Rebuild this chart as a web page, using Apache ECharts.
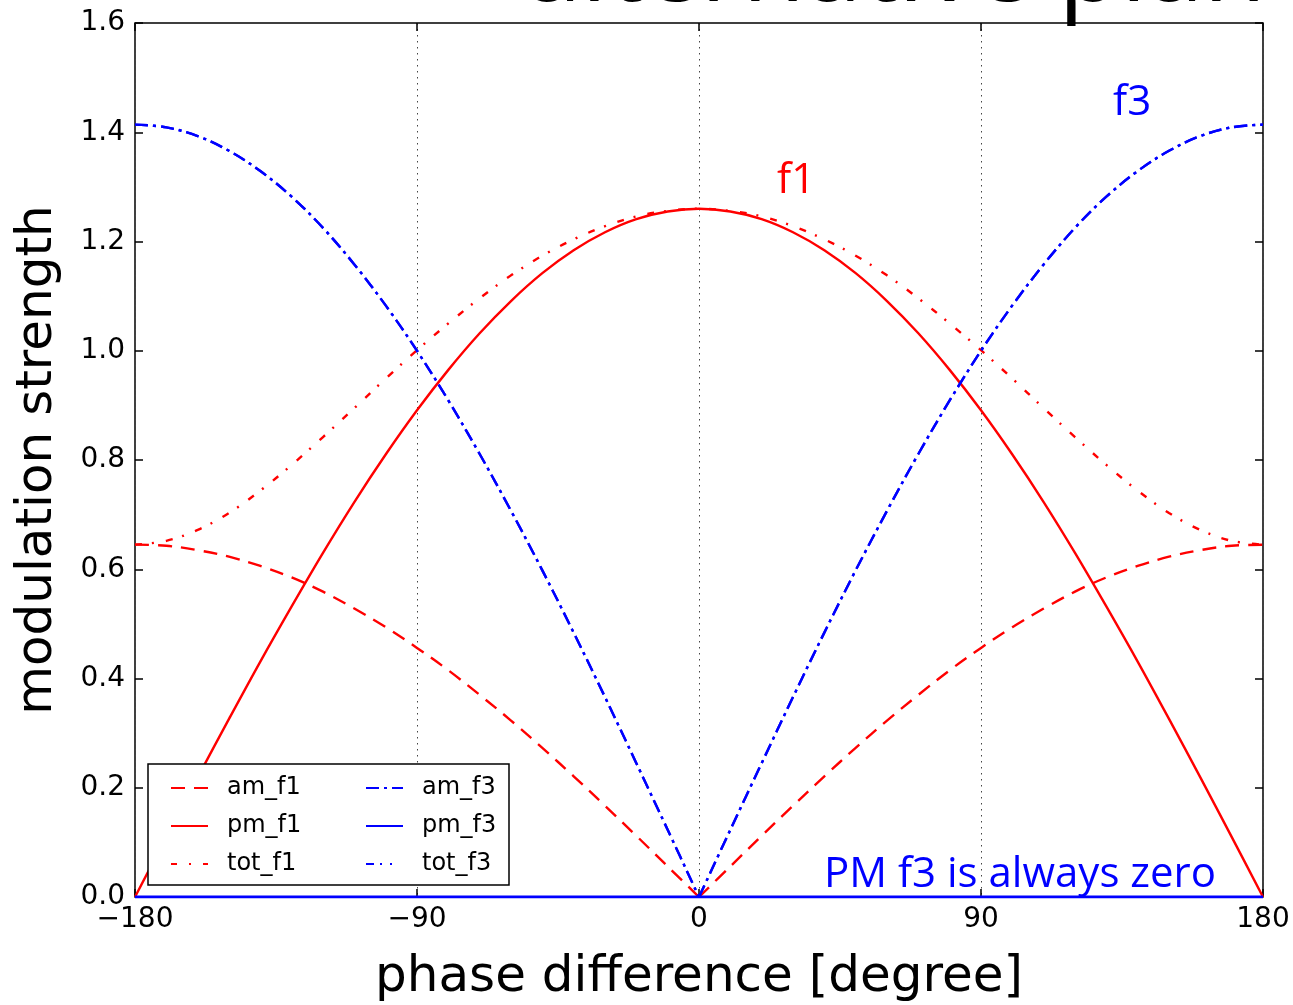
<!DOCTYPE html>
<html>
<head>
<meta charset="utf-8">
<script src="https://cdn.jsdelivr.net/npm/echarts@6/dist/echarts.min.js"></script>
<style>
html,body{margin:0;padding:0;background:#fff;}
#chart{width:1293px;height:1005px;}
</style>
</head>
<body>
<div id="chart"></div>
<script>
// phase difference in degrees
const phase = [-180,-170,-160,-150,-140,-130,-120,-110,-100,-90,-80,-70,-60,-50,-40,-30,-20,-10,0,
  10,20,30,40,50,60,70,80,90,100,110,120,130,140,150,160,170,180];

const amF1 = [0.645,0.643,0.635,0.623,0.606,0.585,0.559,0.528,0.494,0.456,0.415,0.370,0.323,0.273,0.221,0.167,0.112,0.056,0,
  0.056,0.112,0.167,0.221,0.273,0.323,0.370,0.415,0.456,0.494,0.528,0.559,0.585,0.606,0.623,0.635,0.643,0.645];

const pmF1 = [0,0.110,0.219,0.326,0.431,0.532,0.630,0.723,0.810,0.891,0.965,1.032,1.091,1.142,1.184,1.217,1.241,1.255,1.260,
  1.255,1.241,1.217,1.184,1.142,1.091,1.032,0.965,0.891,0.810,0.723,0.630,0.532,0.431,0.326,0.219,0.110,0];

const totF1 = [0.645,0.652,0.672,0.703,0.744,0.791,0.842,0.895,0.949,1.001,1.050,1.096,1.138,1.174,1.204,1.228,1.246,1.256,1.260,
  1.256,1.246,1.228,1.204,1.174,1.138,1.096,1.050,1.001,0.949,0.895,0.842,0.791,0.744,0.703,0.672,0.652,0.645];

const amF3 = [1.414,1.409,1.393,1.366,1.329,1.282,1.225,1.158,1.083,1.000,0.909,0.811,0.707,0.598,0.484,0.366,0.245,0.123,0,
  0.123,0.245,0.366,0.484,0.598,0.707,0.811,0.909,1.000,1.083,1.158,1.225,1.282,1.329,1.366,1.393,1.409,1.414];

const pmF3 = [0,0,0,0,0,0,0,0,0,0,0,0,0,0,0,0,0,0,0,
  0,0,0,0,0,0,0,0,0,0,0,0,0,0,0,0,0,0,0];

const totF3 = [1.414,1.409,1.393,1.366,1.329,1.282,1.225,1.158,1.083,1.000,0.909,0.811,0.707,0.598,0.484,0.366,0.245,0.123,0,
  0.123,0.245,0.366,0.484,0.598,0.707,0.811,0.909,1.000,1.083,1.158,1.225,1.282,1.329,1.366,1.393,1.409,1.414];

const xTicks = [-180,-90,0,90,180];
const yTicks = [0,0.2,0.4,0.6,0.8,1.0,1.2,1.4,1.6];

const pairs = arr => phase.map((p,i)=>[p,arr[i]]);
const mid = phase.indexOf(0);

const chart = echarts.init(document.getElementById('chart'));
const mainFont = 'DejaVu Sans';
const tickStyle = {inside:true,length:8,lineStyle:{color:'#000',width:1.5}};

function mkSeries(name, data, color, type, z, width){
  return {
    name, type:'line', data:data, symbol:'none', showSymbol:false,
    smooth:0.35,
    xAxisIndex:0, yAxisIndex:0, z:z,
    lineStyle:{color, width:width||2.4, type},
    itemStyle:{color},
    emphasis:{disabled:true}
  };
}
// V-shaped series are drawn as two halves so the tip at 0 stays sharp
function halves(name, arr, color, type, z){
  const p = pairs(arr);
  return [mkSeries(name, p.slice(0, mid+1), color, type, z),
          mkSeries(name, p.slice(mid), color, type, z)];
}

const legendText = {fontFamily:mainFont,fontSize:24,color:'#000',lineHeight:24,padding:[0,0,0,14]};

chart.setOption({
  animation:false,
  backgroundColor:'#fff',
  grid:{left:135,right:30,top:23,bottom:108,show:true,borderColor:'#000',borderWidth:1.5,
    backgroundColor:'transparent',containLabel:false,outerBoundsMode:'none'},
  xAxis:[{
    type:'value',min:-180,max:180,interval:90,position:'bottom',
    axisLine:{show:false,onZero:false},
    axisTick:tickStyle,
    axisLabel:{fontFamily:mainFont,fontSize:28,color:'#000',margin:9,
      formatter:v=> xTicks.includes(v) ? (v<0?'\u2212'+(-v):String(v)) : ''},
    splitLine:{show:true,lineStyle:{color:'#444',width:1,type:[1.5,4.5]}},
    name:'phase difference [degree]',nameLocation:'middle',nameGap:56,
    nameTextStyle:{fontFamily:mainFont,fontSize:50,color:'#000'}
  },{
    type:'value',min:-180,max:180,interval:90,position:'top',
    axisLine:{show:false,onZero:false},axisTick:tickStyle,axisLabel:{show:false},splitLine:{show:false}
  }],
  yAxis:[{
    type:'value',min:0,max:1.6,interval:0.2,position:'left',
    axisLine:{show:false,onZero:false},
    axisTick:tickStyle,
    axisLabel:{fontFamily:mainFont,fontSize:28,color:'#000',margin:10,
      formatter:v=>v.toFixed(1)},
    splitLine:{show:false},
    name:'modulation strength',nameLocation:'middle',nameGap:72,
    nameTextStyle:{fontFamily:mainFont,fontSize:50,color:'#000'}
  },{
    type:'value',min:0,max:1.6,interval:0.2,position:'right',
    axisLine:{show:false,onZero:false},axisTick:tickStyle,axisLabel:{show:false},splitLine:{show:false}
  }],
  legend:[{
    orient:'vertical',left:165,top:771,itemWidth:37,itemHeight:14,itemGap:14,
    itemStyle:{opacity:0},
    data:['am_f1','pm_f1',{name:'tot_f1',lineStyle:{type:[6,12,2,12]}}],
    textStyle:legendText,
    selectedMode:false,z:10
  },{
    orient:'vertical',left:360,top:771,itemWidth:37,itemHeight:14,itemGap:14,
    itemStyle:{opacity:0},
    data:['am_f3','pm_f3',{name:'tot_f3',lineStyle:{type:[8,6,2,8,2,12]}}],
    textStyle:legendText,
    selectedMode:false,z:10
  }],
  graphic:[
    {type:'rect',z:5,shape:{x:148,y:764,width:361,height:121},
      style:{fill:'#fff',stroke:'#000',lineWidth:1.5}},
    {type:'text',z:6,x:1266,y:23,
      style:{text:'alternative plan',font:'102px "Open Sans"',fill:'#000',align:'right',verticalAlign:'bottom'}},
    {type:'text',z:6,x:777,y:181,
      style:{text:'f1',font:'42px "Open Sans"',fill:'#ff0000',align:'left',verticalAlign:'middle'}},
    {type:'text',z:6,x:1113,y:103,
      style:{text:'f3',font:'42px "Open Sans"',fill:'#0000ff',align:'left',verticalAlign:'middle'}},
    {type:'text',z:6,x:824,y:875,
      style:{text:'PM f3 is always zero',font:'42px "Open Sans"',fill:'#0000ff',align:'left',verticalAlign:'middle'}}
  ],
  series:[
    ...halves('am_f1',amF1,'#ff0000',[14,9],2),
    mkSeries('pm_f1',pairs(pmF1),'#ff0000','solid',2),
    mkSeries('tot_f1',pairs(totF1),'#ff0000',[7,10,2,12],2),
    ...halves('tot_f3',totF3,'#0000ff',[13,5,3,5],2),
    ...halves('am_f3',amF3,'#0000ff',[13,5,3,5],2),
    mkSeries('pm_f3',pairs(pmF3),'#0000ff','solid',3,3)
  ]
});
</script>
</body>
</html>
